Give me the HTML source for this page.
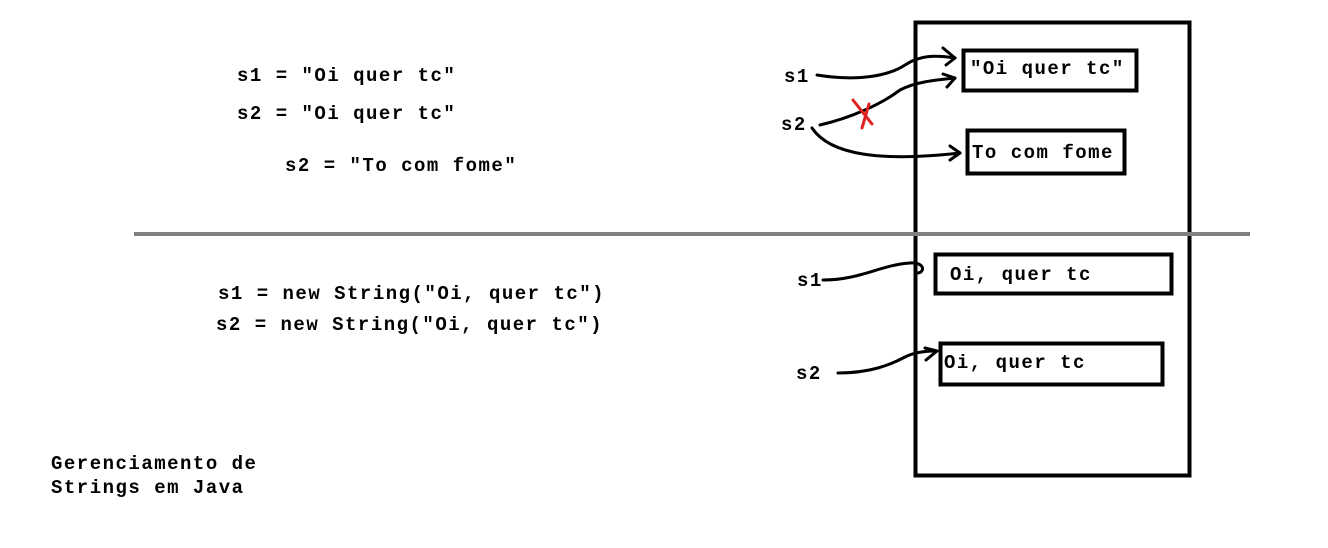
<!DOCTYPE html>
<html><head><meta charset="utf-8"><style>
html,body{margin:0;padding:0;background:#fff;}
svg{display:block}
text{font-family:"Liberation Mono","Courier New",monospace;font-weight:bold;fill:#000;font-size:19px;letter-spacing:1.5px}
</style></head><body>
<svg width="1328" height="548" viewBox="0 0 1328 548" xmlns="http://www.w3.org/2000/svg">
<rect width="1328" height="548" fill="#fff"/>
<!-- big memory box -->
<rect x="915.5" y="22.5" width="274" height="453" fill="none" stroke="#000" stroke-width="4"/>
<!-- separator -->
<line x1="134" y1="234" x2="1250" y2="234" stroke="#808080" stroke-width="4"/>
<!-- code text -->
<text x="237" y="81">s1 = "Oi quer tc"</text>
<text x="237" y="119">s2 = "Oi quer tc"</text>
<text x="285" y="171">s2 = "To com fome"</text>
<text x="218" y="299">s1 = new String("Oi, quer tc")</text>
<text x="216" y="330">s2 = new String("Oi, quer tc")</text>
<text x="51" y="469">Gerenciamento de</text>
<text x="51" y="493">Strings em Java</text>
<!-- boxes -->
<rect x="963.5" y="50.5" width="173" height="40" fill="none" stroke="#000" stroke-width="4"/>
<text x="970" y="74">"Oi quer tc"</text>
<rect x="967.5" y="130.5" width="157" height="43" fill="none" stroke="#000" stroke-width="4"/>
<text x="972" y="158">To com fome</text>
<rect x="935.5" y="254.5" width="236" height="39" fill="none" stroke="#000" stroke-width="4"/>
<text x="950" y="280">Oi, quer tc</text>
<rect x="940.5" y="343.5" width="222" height="41" fill="none" stroke="#000" stroke-width="4"/>
<text x="944" y="368">Oi, quer tc</text>
<!-- var labels -->
<text x="784" y="82">s1</text>
<text x="781" y="130">s2</text>
<text x="797" y="286">s1</text>
<text x="796" y="379">s2</text>
<!-- arrows -->
<g fill="none" stroke="#000" stroke-width="3" stroke-linecap="round" stroke-linejoin="round">
<path d="M817 75 C860 82 890 75 905 65 C920 55 935 55 955 58"/>
<path d="M943 48 L955 58 L946 65"/>
<path d="M820 125 C850 118 880 105 900 90 C915 82 935 80 955 78"/>
<path d="M943 74 L955 78 L947 87"/>
<path d="M812 128 C830 155 880 162 960 153"/>
<path d="M950 146 L960 153 L950 160"/>
<path d="M823 280 C860 280 880 265 910 263 C925 262 925 272 918 273"/>
<path d="M838 373 C870 373 890 365 905 357 C915 352 925 351 935 351"/>
<path d="M925 348 L937 351 L926 360"/>
</g>
<!-- red X -->
<g stroke="#e02020" stroke-width="3" stroke-linecap="round">
<path d="M853 100 L872 124"/>
<path d="M869 104 L862 128"/>
</g>
</svg>
</body></html>
